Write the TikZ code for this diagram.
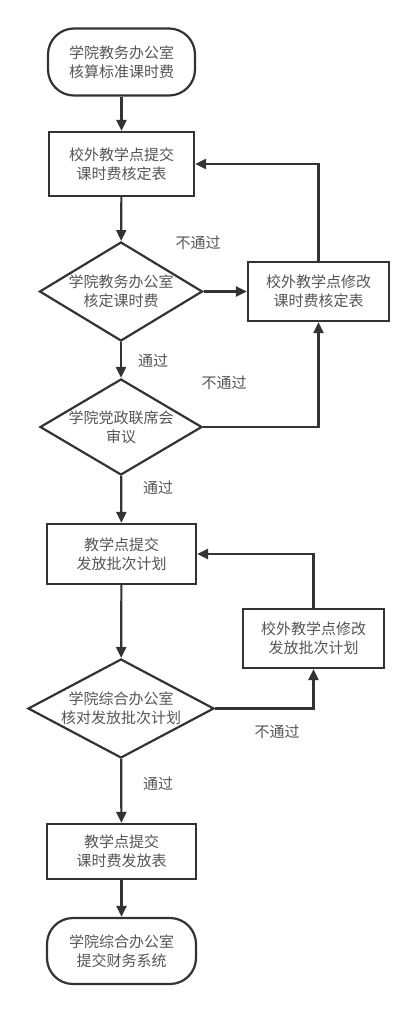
\documentclass[tikz,border=0pt]{standalone}
\usepackage{fontspec}
\setmainfont{Noto Sans CJK SC}
\usetikzlibrary{shapes.geometric,arrows.meta}
\definecolor{ln}{HTML}{333333}
\definecolor{tx}{HTML}{555555}
\begin{document}
\begin{tikzpicture}[x=1pt,y=-1pt,
  every node/.style={font=\fontsize{15}{19}\selectfont, text=tx, align=center, inner sep=0pt},
  proc/.style={draw=ln, line width=2.2pt, rectangle, minimum width=#1},
  term/.style={draw=ln, line width=2.2pt, rectangle, rounded corners=26pt, minimum width=147pt, minimum height=67pt},
  dec/.style={draw=ln, line width=2.2pt, diamond},
  conn/.style={draw=ln, line width=2.2pt, -{Triangle[length=11pt,width=10pt]}},
  lbl/.style={font=\fontsize{15}{19}\selectfont, text=tx}]
\useasboundingbox (0,0) rectangle (418,1012);
\node[term] (start) at (121.5,62) {学院教务办公室\\核算标准课时费};
\node[proc=145pt, minimum height=64pt] (b1) at (121.5,164) {校外教学点提交\\课时费核定表};
\node[dec, minimum width=163pt, minimum height=99pt, aspect=1.65] (d1) at (121,291.5) {学院教务办公室\\核定课时费};
\node[proc=141pt, minimum height=59pt] (r1) at (318.5,291.5) {校外教学点修改\\课时费核定表};
\node[dec, minimum width=162pt, minimum height=96pt, aspect=1.69] (d2) at (121,427) {学院党政联席会\\审议};
\node[proc=149pt, minimum height=60pt] (b2) at (121.5,554) {教学点提交\\发放批次计划};
\node[proc=141pt, minimum height=59pt] (r2) at (313.5,638.5) {校外教学点修改\\发放批次计划};
\node[dec, minimum width=186pt, minimum height=99pt, aspect=1.88] (d3) at (121,708.5) {学院综合办公室\\核对发放批次计划};
\node[proc=149pt, minimum height=55pt] (b3) at (121.5,851.5) {教学点提交\\课时费发放表};
\node[term, minimum width=149pt, minimum height=66pt] (end) at (121.5,951) {学院综合办公室\\提交财务系统};

\draw[conn] (start) -- (b1);
\draw[conn] (b1) -- (d1);
\draw[conn] (d1) -- (r1);
\draw[conn] (r1.north) |- (b1.east);
\draw[conn] (d1) -- (d2);
\draw[conn] (d2.east) -| (r1.south);
\draw[conn] (d2) -- (b2);
\draw[conn] (b2) -- (d3);
\draw[conn] (d3.east) -| (r2.south);
\draw[conn] (r2.north) |- (b2.east);
\draw[conn] (d3) -- (b3);
\draw[conn] (b3) -- (end);

\node[lbl] (l1) at (198,243) {不通过};
\node[lbl] (l2) at (153,361) {通过};
\node[lbl] (l3) at (224,383) {不通过};
\node[lbl] (l4) at (158,488) {通过};
\node[lbl] (l5) at (277,732) {不通过};
\node[lbl] (l6) at (158,784) {通过};
\end{tikzpicture}
\end{document}
